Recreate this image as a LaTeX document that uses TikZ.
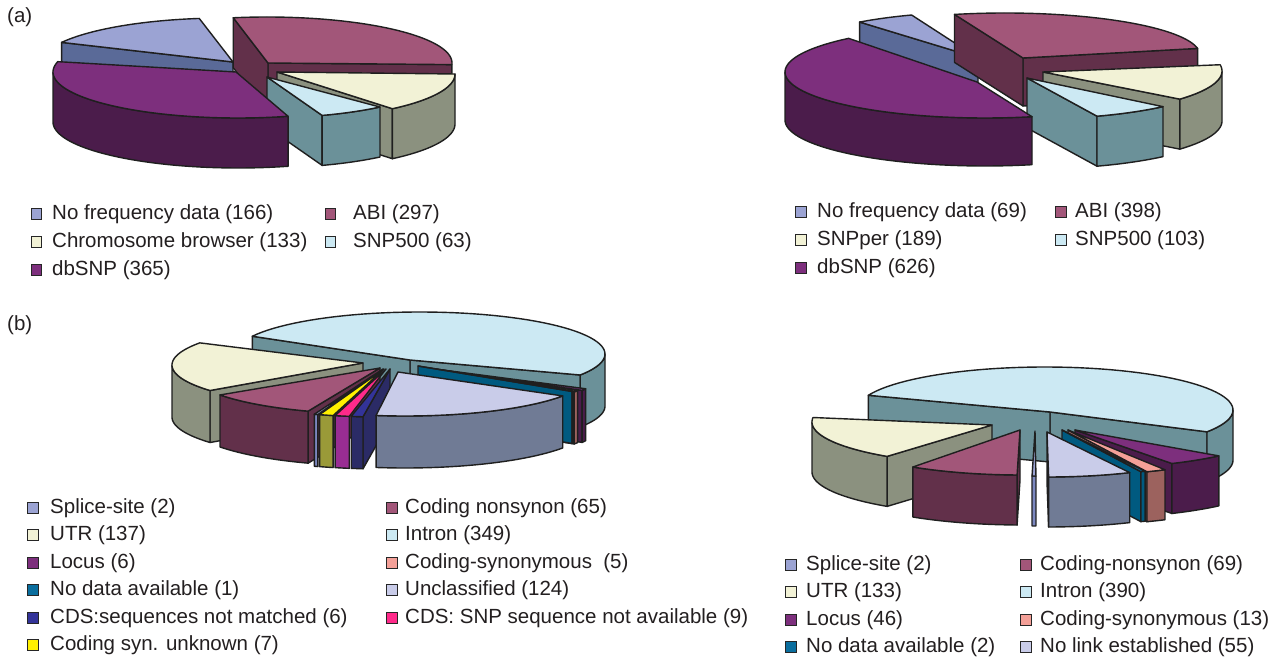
\documentclass[tikz,border=0pt]{standalone}
\usepackage{fontspec}
\setmainfont{Liberation Sans}
\definecolor{nfT}{HTML}{9BA3D3}\definecolor{nfS}{HTML}{5A6A98}
\definecolor{abT}{HTML}{A25679}\definecolor{abS}{HTML}{62304A}
\definecolor{chT}{HTML}{F2F2D6}\definecolor{chS}{HTML}{8B917F}
\definecolor{s5T}{HTML}{CCE9F3}\definecolor{s5S}{HTML}{6B9199}
\definecolor{dbT}{HTML}{7D2F7D}\definecolor{dbS}{HTML}{4B1C4B}
\definecolor{unT}{HTML}{C9CCE9}\definecolor{unS}{HTML}{707B95}
\definecolor{spS}{HTML}{7C88C0}
\definecolor{yeT}{HTML}{FFF000}\definecolor{yeS}{HTML}{9A9A38}
\definecolor{piT}{HTML}{FF2A8A}\definecolor{piS}{HTML}{992D93}
\definecolor{nvT}{HTML}{333399}\definecolor{nvS}{HTML}{2B2B66}
\definecolor{ndT}{HTML}{0A6E9E}\definecolor{ndS}{HTML}{005A80}
\definecolor{csT}{HTML}{F4A098}\definecolor{csS}{HTML}{9C625E}
\definecolor{txt}{HTML}{231F20}
\pgfkeys{/sl/.cd,ex/.store in=\slEX,ey/.store in=\slEY,ax/.store in=\slAX,ay/.store in=\slAY,
 rx/.store in=\slRX,ry/.store in=\slRY,h/.store in=\slH,ta/.store in=\slTa,tb/.store in=\slTb,
 wa/.store in=\slWa,wb/.store in=\slWb,top/.store in=\slTop,side/.store in=\slSide,
 fa/.store in=\slFa,fb/.store in=\slFb}
\newcommand\pslice[1]{%
 \pgfkeys{/sl/.cd,fa=0,fb=0,wa=0,wb=0,#1}%
 \ifnum\slFa=1\relax
  \draw[edge,fill=\slSide] (\slAX,\slAY) -- ({\slEX+\slRX*cos(\slTa)},{\slEY-\slRY*sin(\slTa)}) -- ++(0,\slH) -- (\slAX,{\slAY+\slH}) -- cycle;
 \fi
 \ifnum\slFb=1\relax
  \draw[edge,fill=\slSide] (\slAX,\slAY) -- ({\slEX+\slRX*cos(\slTb)},{\slEY-\slRY*sin(\slTb)}) -- ++(0,\slH) -- (\slAX,{\slAY+\slH}) -- cycle;
 \fi
 \ifdim\slWa pt<\slWb pt
  \draw[edge,fill=\slSide] plot[variable=\q,domain=\slWa:\slWb,samples=40] ({\slEX+\slRX*cos(\q)},{\slEY-\slRY*sin(\q)}) -- plot[variable=\q,domain=\slWb:\slWa,samples=40] ({\slEX+\slRX*cos(\q)},{\slEY-\slRY*sin(\q)+\slH}) -- cycle;
 \fi
 \draw[edge,fill=\slTop] (\slAX,\slAY) -- plot[variable=\q,domain=\slTa:\slTb,samples=60] ({\slEX+\slRX*cos(\q)},{\slEY-\slRY*sin(\q)}) -- cycle;
}
\begin{document}
\begin{tikzpicture}[x=1pt,y=-1pt,
 edge/.style={draw=black!88,line width=1.4pt,line join=round},
 sq/.style={draw=black!85,line width=1.3pt,minimum size=10.5pt,inner sep=0pt,anchor=center},
 lbl/.style={anchor=west,inner sep=0pt,text=txt,font=\fontsize{20.5}{24}\selectfont}]
\useasboundingbox (0,0) rectangle (1278,660);
\fill[white] (0,0) rectangle (1278,660);
\node[lbl] (pa) at (7,17) {(a)};
\node[lbl] (pb) at (7,325) {(b)};
% ---------- chart a, left
\pslice{ex=225,ey=64,ax=233,ay=62,rx=185,ry=46,h=50,ta=98,tb=152,fb=1,top=nfT,side=nfS}
\pslice{ex=267,ey=63,ax=268,ay=63,rx=185,ry=46,h=50,ta=-2,tb=100.5,fa=1,fb=1,top=abT,side=abS}
\pslice{ex=273,ey=74,ax=277,ay=72,rx=182,ry=46,h=50,ta=-49,tb=0,fa=1,wa=-49,wb=0,top=chT,side=chS}
\pslice{ex=262,ey=72,ax=267,ay=77,rx=182,ry=46,h=50,ta=-70.7,tb=-49.6,fa=1,wa=-70.7,wb=-49.6,top=s5T,side=s5S}
\pslice{ex=238,ey=72,ax=236,ay=72,rx=185,ry=46,h=50,ta=167,tb=285.7,wa=180,wb=285.7,top=dbT,side=dbS}
% ---------- chart a, right
\pslice{ex=980,ey=62,ax=978,ay=58,rx=200,ry=50,h=48,ta=110,tb=127,fb=1,top=nfT,side=nfS}
\pslice{ex=1005,ey=55,ax=1023,ay=58,rx=195,ry=42,h=48,ta=9,tb=105,fa=1,fb=1,top=abT,side=abS}
\pslice{ex=1030,ey=71,ax=1043,ay=72,rx=192,ry=45,h=50,ta=-38.7,tb=8,fa=1,wa=-38.7,wb=0,top=chT,side=chS}
\pslice{ex=1030,ey=73,ax=1027,ay=78,rx=195,ry=46,h=50,ta=-69.9,tb=-47,fa=1,wa=-69.9,wb=-47,top=s5T,side=s5S}
\pslice{ex=985,ey=72,ax=977,ay=82,rx=200,ry=46,h=48,ta=133,tb=283.6,wa=180,wb=283.6,top=dbT,side=dbS}
% ---------- chart b, left
\pgfkeys{/sl/.cd,rx=185,ry=42,h=52}
\pslice{ex=420,ey=354,ax=410,ay=360,ta=-30,tb=155,fa=1,fb=1,wa=-30,wb=0,top=s5T,side=s5S}
\pslice{ex=357,ey=365,ax=363,ay=363,ta=148.2,tb=217.4,fb=1,wa=180,wb=217.4,top=chT,side=chS}
\pslice{ex=375,ey=372,ax=380,ay=368,ta=213.1,tb=248.8,fb=1,wa=213.1,wb=248.8,top=abT,side=abS}
\pslice{ex=380,ey=375,ax=383,ay=369,ta=249.2,tb=250.4,wa=249.2,wb=250.4,top=nfT,side=spS}
\pslice{ex=381,ey=375,ax=384,ay=369,ta=250.6,tb=255,wa=250.6,wb=255,top=yeT,side=yeS}
\pslice{ex=382,ey=375,ax=386,ay=369,ta=255.3,tb=259.8,wa=255.3,wb=259.8,top=piT,side=piS}
\pslice{ex=383,ey=375,ax=390,ay=369,ta=260.1,tb=263.8,fb=1,wa=260.1,wb=263.8,top=nvT,side=nvS}
\pslice{ex=418,ey=371,ax=420,ay=367,ta=332.5,tb=335,fa=1,wa=332.5,wb=335,top=dbT,side=dbS}
\pslice{ex=414,ey=371,ax=419,ay=367,ta=330,tb=332.2,fa=1,wa=330,wb=332.2,top=csT,side=csS}
\pslice{ex=413,ey=370,ax=418,ay=366,ta=329.3,tb=329.9,fa=1,wa=329.3,wb=329.9,top=ndT,side=ndS}
\pslice{ex=405,ey=374,ax=398,ay=372,ta=261,tb=328.5,wa=261,wb=328.5,top=unT,side=unS}
% ---------- chart b, right
\pgfkeys{/sl/.cd,rx=188,ry=43,h=50}
\pslice{ex=1045,ey=410,ax=1050,ay=412,ta=-30.5,tb=160,fa=1,fb=1,wa=-30.5,wb=0,top=s5T,side=s5S}
\pslice{ex=1000,ey=422,ax=992,ay=425,ta=174,tb=233.1,fb=1,wa=180,wb=233.1,top=chT,side=chS}
\pslice{ex=1088,ey=425,ax=1075,ay=430,ta=296.5,tb=314.1,fa=1,wa=296.5,wb=314.1,top=dbT,side=dbS}
\pslice{ex=1075,ey=432,ax=1068,ay=430,ta=292.5,tb=298.6,fa=1,wa=292.5,wb=298.6,top=csT,side=csS}
\pslice{ex=1068,ey=432,ax=1062,ay=430,ta=292.8,tb=294.2,fa=1,wa=292.8,wb=294.2,top=ndT,side=ndS}
\pslice{ex=1047,ey=434,ax=1047,ay=432,ta=270.5,tb=296.1,fa=1,wa=270.5,wb=296.1,top=unT,side=unS}
\pslice{ex=1022,ey=432,ax=1020,ay=430,ta=234.5,tb=268.5,fb=1,wa=234.5,wb=268.5,top=abT,side=abS}
\pslice{ex=1034,ey=433,ax=1035,ay=431,ta=269.4,tb=270.6,wa=269.4,wb=270.6,top=nfT,side=spS}
% ---------- legends a
\node[sq,fill=nfT] (a1) at (36.5,214) {}; \node[lbl] (ta1) at (52,214) {No frequency data (166)};
\node[sq,fill=chT] (a2) at (36.5,242) {}; \node[lbl] (ta2) at (52,242) {Chromosome browser (133)};
\node[sq,fill=dbT] (a3) at (36.5,270) {}; \node[lbl] (ta3) at (52,270) {dbSNP (365)};
\node[sq,fill=abT] (a4) at (330.5,214) {}; \node[lbl] (ta4) at (353,214) {ABI (297)};
\node[sq,fill=s5T] (a5) at (330.5,242) {}; \node[lbl] (ta5) at (353,242) {SNP500 (63)};
\node[sq,fill=nfT] (c1) at (801,212) {}; \node[lbl] (tc1) at (817,212) {No frequency data (69)};
\node[sq,fill=chT] (c2) at (801,240) {}; \node[lbl] (tc2) at (817,240) {SNPper (189)};
\node[sq,fill=dbT] (c3) at (801,268) {}; \node[lbl] (tc3) at (817,268) {dbSNP (626)};
\node[sq,fill=abT] (c4) at (1061,212) {}; \node[lbl] (tc4) at (1075,212) {ABI (398)};
\node[sq,fill=s5T] (c5) at (1061,240) {}; \node[lbl] (tc5) at (1075,240) {SNP500 (103)};
% ---------- legends b
\node[sq,fill=nfT] (b1) at (33,508) {}; \node[lbl] (tb1) at (50,508) {Splice-site (2)};
\node[sq,fill=chT] (b2) at (33,535) {}; \node[lbl] (tb2) at (50,535) {UTR (137)};
\node[sq,fill=dbT] (b3) at (33,563) {}; \node[lbl] (tb3) at (50,563) {Locus (6)};
\node[sq,fill=ndT] (b4) at (33,590) {}; \node[lbl] (tb4) at (50,590) {No data available (1)};
\node[sq,fill=nvT] (b5) at (33,618) {}; \node[lbl] (tb5) at (50,618) {CDS:sequences not matched (6)};
\node[sq,fill=yeT] (b6) at (33,645) {}; \node[lbl] (tb6) at (50,645) {Coding syn. unknown (7)};
\node[sq,fill=abT] (b7) at (392,508) {}; \node[lbl] (tb7) at (405,508) {Coding nonsynon (65)};
\node[sq,fill=s5T] (b8) at (392,535) {}; \node[lbl] (tb8) at (405,535) {Intron (349)};
\node[sq,fill=csT] (b9) at (392,563) {}; \node[lbl] (tb9) at (405,563) {Coding-synonymous\ \ (5)};
\node[sq,fill=unT] (b10) at (392,590) {}; \node[lbl] (tb10) at (405,590) {Unclassified (124)};
\node[sq,fill=piT] (b11) at (392,618) {}; \node[lbl] (tb11) at (405,618) {CDS: SNP sequence not available (9)};
\node[sq,fill=nfT] (d1) at (791,565) {}; \node[lbl] (td1) at (806,565) {Splice-site (2)};
\node[sq,fill=chT] (d2) at (791,592) {}; \node[lbl] (td2) at (806,592) {UTR (133)};
\node[sq,fill=dbT] (d3) at (791,620) {}; \node[lbl] (td3) at (806,620) {Locus (46)};
\node[sq,fill=ndT] (d4) at (791,647) {}; \node[lbl] (td4) at (806,647) {No data available (2)};
\node[sq,fill=abT] (d5) at (1026,565) {}; \node[lbl] (td5) at (1040,565) {Coding-nonsynon (69)};
\node[sq,fill=s5T] (d6) at (1026,592) {}; \node[lbl] (td6) at (1040,592) {Intron (390)};
\node[sq,fill=csT] (d7) at (1026,620) {}; \node[lbl] (td7) at (1040,620) {Coding-synonymous (13)};
\node[sq,fill=unT] (d8) at (1026,647) {}; \node[lbl] (td8) at (1040,647) {No link established (55)};
\end{tikzpicture}
\end{document}
